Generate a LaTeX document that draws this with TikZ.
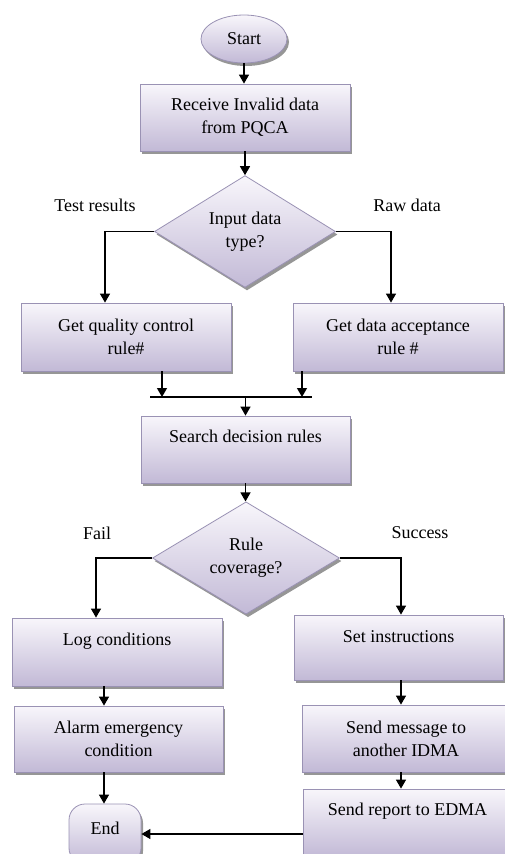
\documentclass[tikz,border=0pt]{standalone}
\usepackage{fontspec}
\setmainfont{Liberation Serif}
\usetikzlibrary{shapes.geometric,shadows,arrows.meta}
\definecolor{lavtop}{HTML}{F8F6FB}
\definecolor{lavbot}{HTML}{C2B9D6}
\definecolor{lavedge}{HTML}{9A92B4}
\begin{document}
\begin{tikzpicture}[x=1pt,y=-1pt,
  font=\fontsize{18}{23}\selectfont,
  shade/.style={draw=lavedge, line width=0.8pt, top color=lavtop, bottom color=lavbot,
    drop shadow={shadow xshift=2pt,shadow yshift=-3pt,fill=black!55,opacity=0.75}},
  box/.style={shade, rectangle, inner sep=0pt, align=center, minimum width=#1},
  box/.default=210pt,
  dec/.style={shade, diamond, inner sep=0pt, align=center},
  arr/.style={-{Triangle[length=9pt,width=10pt]}, line width=1.3pt},
  lbl/.style={inner sep=0pt}]
\useasboundingbox (0,0) rectangle (505,854);

% nodes
\node[shade, ellipse, minimum width=86pt, minimum height=48pt, inner sep=0pt] (start) at (244,39) {Start};
\node[box, minimum height=67pt] (recv) at (245,117.5) {Receive Invalid data\\from PQCA};
\node[dec, minimum width=181pt, minimum height=111pt] (d1) at (245,231.5) {Input data\\type?};
\node[box, minimum height=68pt] (qc) at (126,337) {Get quality control\\rule\#};
\node[box, minimum height=68pt] (da) at (398,337) {Get data acceptance\\rule \#};
\coordinate (barL) at (150,397);
\coordinate (barR) at (312,397);
\coordinate (bar) at (245.5,397);
\node[box=209pt, text height=26pt, text depth=41pt] (search) at (245.5,449.5) {Search decision rules};
\node[dec, minimum width=187pt, minimum height=110pt] (d2) at (246,558) {Rule\\coverage?};
\node[box, text height=27pt, text depth=41pt] (log) at (117,652) {Log conditions};
\node[box=209pt, text height=27pt, text depth=38pt] (set) at (398.5,647.5) {Set instructions};
\node[box=209pt, minimum height=66pt] (alarm) at (118.5,739) {Alarm emergency\\condition};
\node[box=208pt, minimum height=67pt] (msg) at (406,738.5) {Send message to\\another IDMA};
\node[box=209pt, text height=26pt, text depth=42pt] (report) at (407.5,823) {Send report to EDMA};
\node[shade, rectangle, rounded corners=16pt, minimum width=72pt, text height=30pt, text depth=30pt, inner sep=0pt] (End) at (105,834) {End};

% labels
\node[lbl] (ltr) at (95,205) {Test results};
\node[lbl] (lrd) at (407,205) {Raw data};
\node[lbl] (lfail) at (97,533) {Fail};
\node[lbl] (lsucc) at (420,533) {Success};

% connectors
\draw[arr] (start.south) -- (start.south |- recv.north);
\draw[arr] (recv.south) -- (d1.north);
\draw[arr] (d1.west) -| ([xshift=-21pt]qc.north);
\draw[arr] (d1.east) -| ([xshift=-7pt]da.north);
\draw[arr] ([xshift=36pt]qc.south) -- ([xshift=36pt]qc.south |- bar);
\draw[arr] ([xshift=-96pt]da.south) -- ([xshift=-96pt]da.south |- bar);
\draw[line width=1.3pt] (barL) -- (barR);
\draw[arr] (bar) -- (search.north);
\draw[arr] (search.south) -- (search.south |- d2.north);
\draw[arr] (d2.west) -| ([xshift=-21pt]log.north);
\draw[arr] (d2.east) -| ([xshift=2.5pt]set.north);
\draw[arr] ([xshift=-13pt]log.south) -- ([xshift=-13pt]log.south |- alarm.north);
\draw[arr] ([xshift=-14.5pt]alarm.south) -- ([xshift=-14.5pt]alarm.south |- End.north);
\draw[arr] ([xshift=2.5pt]set.south) -- ([xshift=2.5pt]set.south |- msg.north);
\draw[arr] ([xshift=-5pt]msg.south) -- ([xshift=-5pt]msg.south |- report.north);
\draw[arr] (report.west |- End.east) -- (End.east);
\end{tikzpicture}
\end{document}
